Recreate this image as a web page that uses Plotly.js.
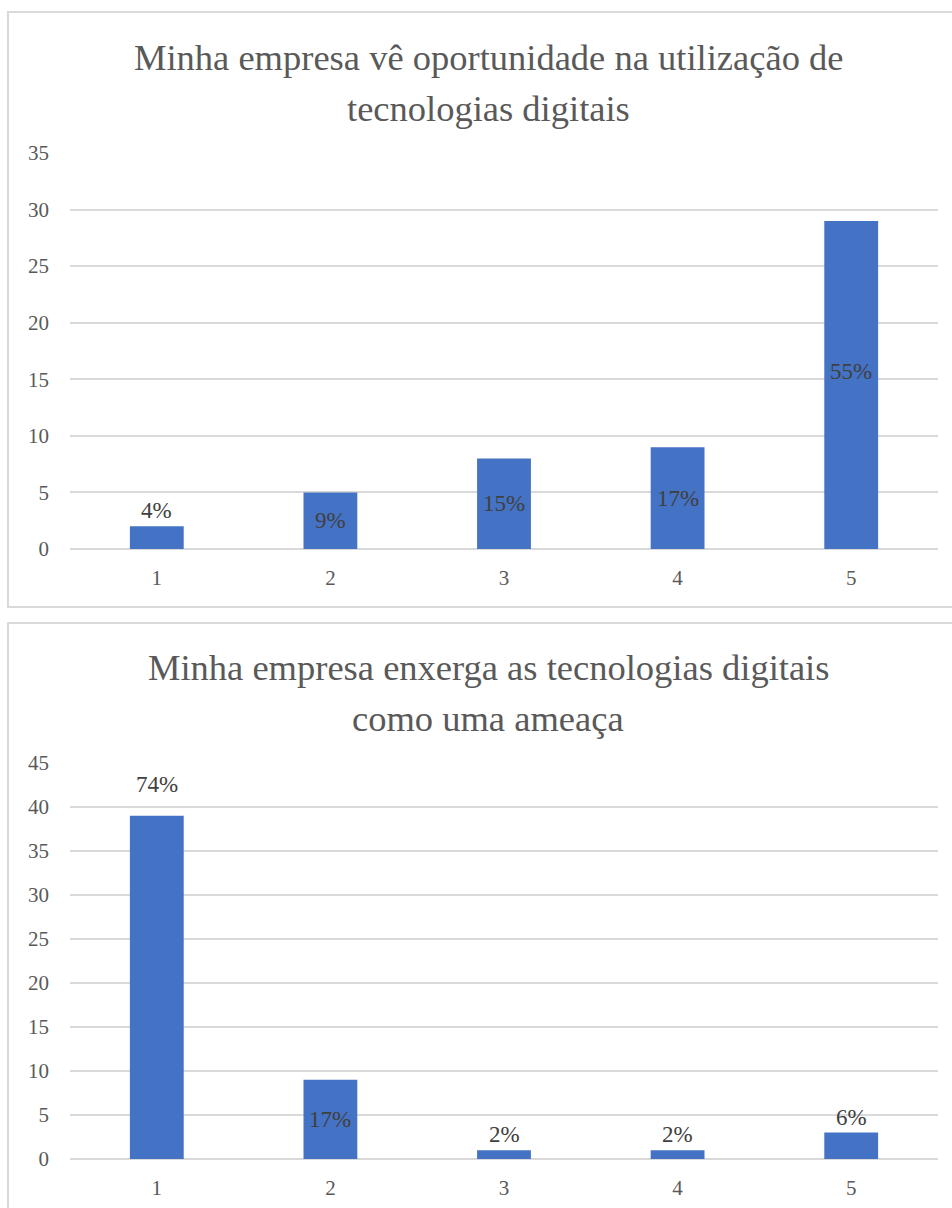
<!DOCTYPE html>
<html>
<head>
<meta charset="utf-8">
<script src="https://cdn.plot.ly/plotly-3.0.1.min.js"></script>
<style>
  html, body { margin: 0; padding: 0; background: #ffffff; overflow: hidden; width: 952px; height: 1208px; }
  .box { position: absolute; left: 7px; width: 962px; height: 597px; border: 2px solid #d9d9d9; box-sizing: border-box; background: #fff; }
  #c1 { top: 11px; }
  #c2 { top: 622px; }
</style>
</head>
<body>
<div id="c1" class="box"></div>
<div id="c2" class="box"></div>
<script>
// Likert scale answers (1 = discordo totalmente ... 5 = concordo totalmente)
const categories = ['1', '2', '3', '4', '5'];

// Number of companies per answer
const oportunidadeCounts = [2, 5, 8, 9, 29];
const ameacaCounts = [39, 9, 1, 1, 3];

// Chart titles (two lines each)
const oportunidadeTitle = ['Minha empresa vê oportunidade na utilização de', 'tecnologias digitais'];
const ameacaTitle = ['Minha empresa enxerga as tecnologias digitais', 'como uma ameaça'];

// Axis maxima
const oportunidadeMax = 35;
const ameacaMax = 45;

// Where each percentage label sits relative to its bar
const oportunidadeLabelPos = ['outside', 'inside', 'inside', 'inside', 'inside'];
const ameacaLabelPos = ['outside', 'inside', 'outside', 'outside', 'outside'];
// Extra vertical nudge of individual labels, in pixels
const oportunidadeLabelNudge = [0, 0, 0, 0, 13];
const ameacaLabelNudge = [16, 0, 0, 0, 0];

const FONT = 'Liberation Serif';
const W = 958, H = 593;

function percentLabels(counts) {
  const total = counts.reduce((a, b) => a + b, 0);
  return counts.map(v => Math.round(100 * v / total) + '%');
}

function drawChart(el, counts, labelPos, nudge, title, yMax, margin) {
  const plotH = H - margin.t - margin.b;
  const plotW = W - margin.l - margin.r;
  const above = px => 1 + px / plotH;           // pixels above plot top -> paper y
  const centerX = (W / 2 - margin.l) / plotW;   // box centre in paper x

  const trace = {
    type: 'bar',
    x: categories,
    y: counts,
    marker: { color: '#4472c4', line: { width: 0 } },
    hoverinfo: 'none'
  };

  // Percentage labels: centred inside the bar or just above its top.
  // On a category axis an annotation's x is the category index.
  const texts = percentLabels(counts);
  const labelAnnotations = counts.map((v, i) => {
    const inside = labelPos[i] === 'inside';
    return {
      text: texts[i],
      xref: 'x', yref: 'y',
      x: i,
      y: inside ? v / 2 : v,
      xanchor: 'center',
      yanchor: inside ? 'middle' : 'bottom',
      yshift: nudge[i] + (inside ? 0 : 1),
      showarrow: false,
      font: { family: FONT, size: 23, color: '#404040' }
    };
  });

  const titleFont = { family: FONT, size: 36.5, color: '#595959' };

  const layout = {
    width: W, height: H,
    margin: margin,
    paper_bgcolor: '#ffffff',
    plot_bgcolor: '#ffffff',
    showlegend: false,
    bargap: 0.69,
    font: { family: FONT, color: '#595959' },
    xaxis: {
      type: 'category',
      categoryorder: 'array',
      categoryarray: categories,
      range: [-0.5, categories.length - 0.5],
      showgrid: false,
      showline: false,
      zeroline: false,
      ticks: '',
      ticklabelstandoff: 14,
      tickfont: { family: FONT, size: 21, color: '#595959' },
      fixedrange: true
    },
    yaxis: {
      range: [0, yMax],
      dtick: 5,
      tick0: 0,
      showgrid: true,
      gridcolor: '#d9d9d9',
      gridwidth: 2,
      zeroline: true,
      zerolinecolor: '#d9d9d9',
      zerolinewidth: 2,
      showline: false,
      ticks: '',
      ticklabelstandoff: 20,
      tickfont: { family: FONT, size: 21, color: '#595959' },
      fixedrange: true
    },
    annotations: [
      { text: title[0], xref: 'paper', yref: 'paper', x: centerX, y: above(96),
        xanchor: 'center', yanchor: 'middle', showarrow: false, font: titleFont },
      { text: title[1], xref: 'paper', yref: 'paper', x: centerX, y: above(44),
        xanchor: 'center', yanchor: 'middle', showarrow: false, font: titleFont }
    ].concat(labelAnnotations)
  };

  Plotly.newPlot(el, [trace], layout, { staticPlot: true, displayModeBar: false });
}

drawChart('c1', oportunidadeCounts, oportunidadeLabelPos, oportunidadeLabelNudge,
  oportunidadeTitle, oportunidadeMax, { l: 61, r: 29, t: 140, b: 57, pad: 0 });
drawChart('c2', ameacaCounts, ameacaLabelPos, ameacaLabelNudge,
  ameacaTitle, ameacaMax, { l: 61, r: 29, t: 139, b: 58, pad: 0 });
</script>
</body>
</html>
